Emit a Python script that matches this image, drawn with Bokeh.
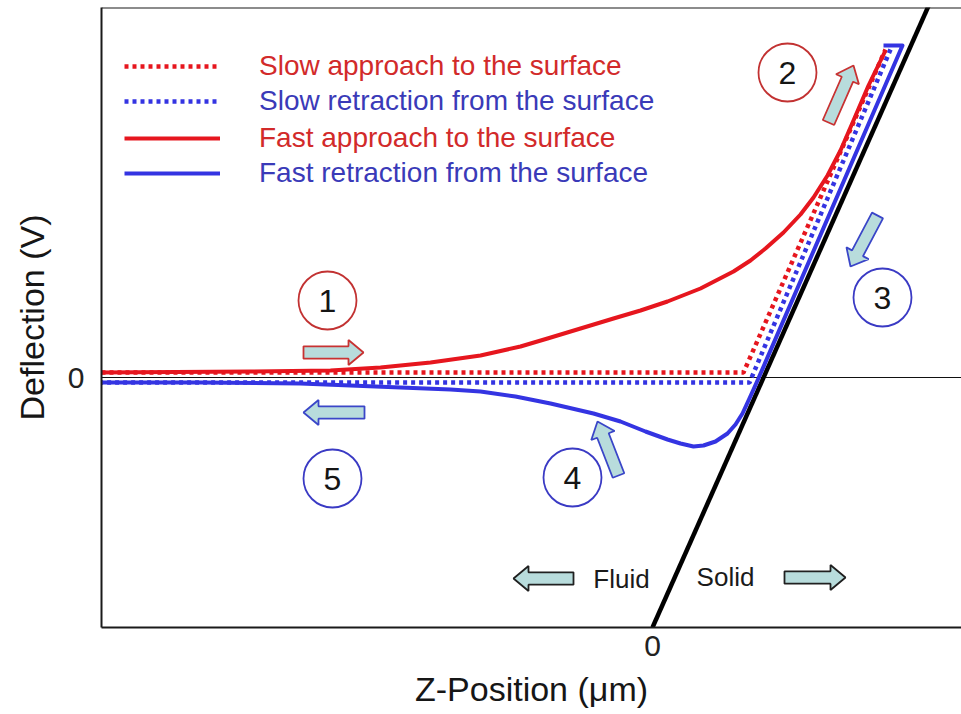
import math

from bokeh.core.properties import value
from bokeh.embed import file_html
from bokeh.models import (FixedTicker, Legend, LegendItem, Range1d, Span)
from bokeh.plotting import figure
from bokeh.resources import INLINE

# ---- curves (Z-position vs cantilever deflection, arbitrary units) ----
surface_z = [0.0, 2.78]
surface_d = [-2.50, 3.76]

slow_app_z = [-5.51, 0.91, 2.33]
slow_app_d = [0.05, 0.05, 3.28]

slow_ret_z = [2.38, 0.97, -5.51]
slow_ret_d = [3.28, -0.05, -0.05]

fast_app_z = [-5.51, -4.02, -3.22, -2.72, -2.22, -1.72, -1.32, -1.05, -0.72, -0.39,
              -0.12, 0.15, 0.48, 0.81, 0.98, 1.13, 1.31, 1.48, 1.61, 1.75,
              1.88, 2.01, 2.16, 2.33]
fast_app_d = [0.05, 0.06, 0.07, 0.10, 0.15, 0.22, 0.31, 0.39, 0.49, 0.59,
              0.67, 0.76, 0.89, 1.06, 1.17, 1.29, 1.45, 1.63, 1.80, 2.02,
              2.27, 2.57, 2.92, 3.27]

fast_ret_z = [2.31, 2.50, 1.05, 1.01, 0.96, 0.90, 0.83, 0.75, 0.63, 0.51,
              0.41, 0.28, 0.15, -0.07, -0.32, -0.59, -1.02, -1.37, -1.72, -2.02,
              -2.52, -3.02, -3.52, -4.52, -5.51]
fast_ret_d = [3.32, 3.32, -0.03, -0.12, -0.23, -0.36, -0.47, -0.56, -0.64, -0.68,
              -0.69, -0.66, -0.62, -0.54, -0.44, -0.36, -0.26, -0.19, -0.14, -0.12,
              -0.10, -0.08, -0.06, -0.05, -0.05]

legend_labels = ["Slow approach to the surface",
                 "Slow retraction from the surface",
                 "Fast approach to the surface",
                 "Fast retraction from the surface"]

# ---- step markers ----
step_labels = ["1", "2", "3", "4", "5"]
step_z = [-3.25, 1.35, 2.30, -0.80, -3.20]
step_d = [0.77, 3.05, 0.80, -1.00, -1.01]
step_colors = ["#c23232", "#c23232", "#3a3ac4", "#3a3ac4", "#3a3ac4"]

# direction arrows: tail -> tip
arrow_tail_z = [-3.49, -2.88, 1.76, 2.25, -0.34, -0.79, 1.32]
arrow_tail_d = [0.25, -0.35, 2.55, 1.62, -0.98, -2.01, -2.00]
arrow_tip_z = [-2.89, -3.49, 2.01, 1.98, -0.55, -1.39, 1.93]
arrow_tip_d = [0.25, -0.35, 3.12, 1.11, -0.44, -2.01, -2.00]
arrow_edge = ["#c83232", "#3a46c8", "#c83232", "#3a46c8", "#3a46c8", "#202020", "#202020"]

region_labels = ["Fluid", "Solid"]
region_z = [-0.31, 0.73]
region_d = [-2.01, -1.99]

RED = "#e6161e"
BLUE = "#3434e2"
FONT = "Liberation Sans"


def block_arrow(tail, tip, shaft=0.062, head=0.125, head_len=0.15):
    tx, ty = tail
    hx, hy = tip
    dx, dy = hx - tx, hy - ty
    length = math.hypot(dx, dy)
    ux, uy = dx / length, dy / length
    nx, ny = -uy, ux
    bx, by = hx - ux * head_len, hy - uy * head_len
    xs = [tx + nx * shaft, bx + nx * shaft, bx + nx * head, hx,
          bx - nx * head, bx - nx * shaft, tx - nx * shaft]
    ys = [ty + ny * shaft, by + ny * shaft, by + ny * head, hy,
          by - ny * head, by - ny * shaft, ty - ny * shaft]
    return xs, ys


p = figure(width=961, height=714,
           x_range=Range1d(-5.51, 3.09), y_range=Range1d(-2.50, 3.70),
           output_backend="svg", toolbar_location=None,
           min_border_left=101, min_border_right=0,
           min_border_top=7, min_border_bottom=87)
p.outline_line_color = None
p.xgrid.grid_line_color = None
p.ygrid.grid_line_color = None
p.background_fill_color = "white"

for ax in (p.xaxis[0], p.yaxis[0]):
    ax.ticker = FixedTicker(ticks=[0])
    ax.major_tick_line_color = None
    ax.minor_tick_line_color = None
    ax.major_tick_out = 0
    ax.major_tick_in = 0
    ax.axis_line_color = "#1a1a1a"
    ax.axis_line_width = 2
    ax.major_label_text_font = FONT
    ax.major_label_text_font_size = "30px"
    ax.major_label_text_color = "#222222"
    ax.axis_label_text_font = FONT
    ax.axis_label_text_font_size = "34px"
    ax.axis_label_text_font_style = "normal"
    ax.axis_label_text_color = "#161616"

p.xaxis.axis_label = "Z-Position (\u03bcm)"
p.yaxis.axis_label = "Deflection (V)"
p.xaxis.major_label_standoff = 8
p.xaxis.axis_label_standoff = 11
p.yaxis.major_label_standoff = 17
p.yaxis.axis_label_standoff = 14

# top edge of the frame and the zero-deflection baseline
p.add_layout(Span(location=3.70, dimension="width", line_color="#1a1a1a", line_width=2))
p.add_layout(Span(location=0, dimension="width", line_color="#111111",
                  line_width=1.2, level="underlay"))

# hard surface (contact line)
p.line(surface_z, surface_d, line_color="black", line_width=4.5)

r_slow_app = p.line(slow_app_z, slow_app_d, line_color=RED, line_width=4.5, line_dash="4 4")
r_slow_ret = p.line(slow_ret_z, slow_ret_d, line_color=BLUE, line_width=4.5, line_dash="4 4")
r_fast_app = p.line(fast_app_z, fast_app_d, line_color=RED, line_width=4, line_join="round")
r_fast_ret = p.line(fast_ret_z, fast_ret_d, line_color=BLUE, line_width=4, line_join="round")

# arrows
axs, ays = [], []
for i in range(len(arrow_tail_z)):
    xs, ys = block_arrow((arrow_tail_z[i], arrow_tail_d[i]), (arrow_tip_z[i], arrow_tip_d[i]))
    axs.append(xs)
    ays.append(ys)
p.patches(axs, ays, fill_color="#b8dcdc", line_color=arrow_edge, line_width=1.8)

# numbered step circles
p.scatter(step_z, step_d, size=58, fill_color="white", line_color=step_colors, line_width=1.8)
p.text(step_z, step_d, text=step_labels, text_align="center", text_baseline="middle",
       text_font=value(FONT), text_font_size="32px", text_color="#151515")

p.text(region_z, region_d, text=region_labels, text_align="center", text_baseline="middle",
       text_font=value(FONT), text_font_size="26px", text_color="#1a1a1a")

# legend: one entry per block so each label keeps its own colour
legend_specs = [(r_slow_app, legend_labels[0], "#d22a2a"),
                (r_slow_ret, legend_labels[1], "#3a3ab8"),
                (r_fast_app, legend_labels[2], "#d22a2a"),
                (r_fast_ret, legend_labels[3], "#3a3ab8")]
row_y = [543, 508, 471, 436]
for (rend, lab, col), yy in zip(legend_specs, row_y):
    lg = Legend(items=[LegendItem(label=lab, renderers=[rend])], location=(23, yy),
                glyph_width=96, glyph_height=36, label_height=36,
                label_standoff=39, padding=0, margin=0, spacing=0,
                border_line_color=None, background_fill_alpha=0,
                label_text_font=FONT, label_text_font_size="28px",
                label_text_color=col)
    p.add_layout(lg)

open("out.html", "w").write(file_html(p, INLINE))
